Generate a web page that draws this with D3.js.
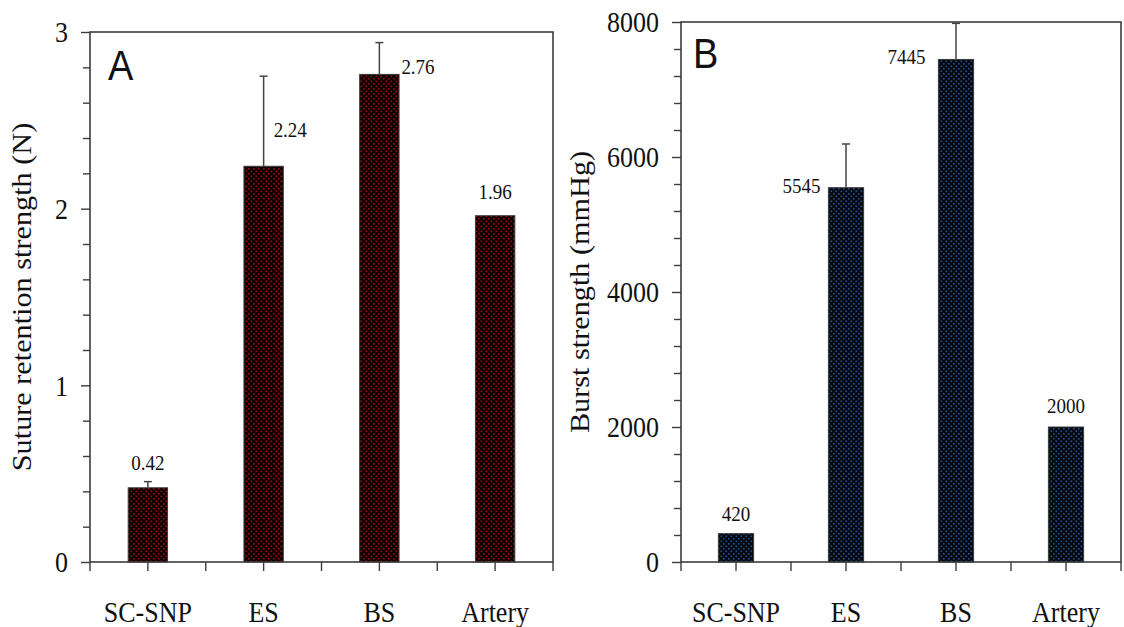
<!DOCTYPE html>
<html>
<head>
<meta charset="utf-8">
<script src="https://cdn.jsdelivr.net/npm/d3@7"></script>
<style>
  html, body { margin: 0; padding: 0; background: #fff; }
  svg { display: block; }
</style>
</head>
<body>
<svg id="chart" width="1124" height="627"></svg>
<script>
// Categories shared by both panels
const categories = ["SC-SNP", "ES", "BS", "Artery"];

// Panel A: suture retention strength (N)
const sutureMeans = [0.42, 2.24, 2.76, 1.96];
const sutureErrors = [0.035, 0.51, 0.18, 0];
const sutureMajorTicks = [0, 1, 2, 3];
const sutureMinorTicks = [0.2, 0.4, 0.6, 0.8, 1.2, 1.4, 1.6, 1.8, 2.2, 2.4, 2.6, 2.8];

// Panel B: burst strength (mmHg)
const burstMeans = [420, 5545, 7445, 2000];
const burstErrors = [0, 648, 535, 0];
const burstMajorTicks = [0, 2000, 4000, 6000, 8000];
const burstMinorTicks = [400, 800, 1200, 1600, 2400, 2800, 3200, 3600, 4400, 4800, 5200, 5600, 6400, 6800, 7200, 7600];

const SERIF = '"Liberation Serif", "Times New Roman", Times, serif';
const SANS = '"Liberation Sans", Arial, sans-serif';
const TEXT_STRETCH = 1.12;   // glyphs are drawn slightly taller than wide

const svg = d3.select("#chart");
const defs = svg.append("defs");

// Stippled fills for the bars
function stipple(id, bg, dot) {
  const p = defs.append("pattern")
    .attr("id", id).attr("patternUnits", "userSpaceOnUse")
    .attr("width", 5).attr("height", 5);
  p.append("rect").attr("width", 5).attr("height", 5).attr("fill", bg);
  p.append("rect").attr("x", 0.5).attr("y", 0.5).attr("width", 1.6).attr("height", 1.6).attr("fill", dot);
  p.append("rect").attr("x", 3).attr("y", 3).attr("width", 1.6).attr("height", 1.6).attr("fill", dot);
}
stipple("dotsRed", "#0c0000", "#a00c0c");
stipple("dotsBlue", "#05080f", "#20508e");

function stretchedText(g, x, y, str, opts) {
  const rot = opts.rotate ? " rotate(-90)" : "";
  return g.append("text")
    .attr("transform", `translate(${x},${y}) scale(1,${TEXT_STRETCH})${rot}`)
    .attr("text-anchor", opts.anchor || "middle")
    .attr("font-family", opts.family || SERIF)
    .attr("font-size", opts.size)
    .attr("fill", "#111")
    .text(str);
}

function drawPanel(cfg) {
  const g = svg.append("g");
  const x = d3.scaleBand().domain(categories).range([cfg.left, cfg.right]).padding(0);
  const y = d3.scaleLinear().domain(cfg.domain).range([cfg.bottom, cfg.top]);
  const barW = x.step() * cfg.barFrac;
  const cx = c => x(c) + x.bandwidth() / 2;

  // bars
  g.selectAll("rect.bar").data(cfg.means).join("rect")
    .attr("class", "bar")
    .attr("x", (d, i) => cx(categories[i]) - barW / 2)
    .attr("y", d => y(d))
    .attr("width", barW)
    .attr("height", d => y(0) - y(d))
    .attr("fill", `url(#${cfg.pattern})`)
    .attr("stroke", "#3a3a3a").attr("stroke-width", 1);

  // upper error bars
  const eb = g.append("g").attr("stroke", "#444").attr("stroke-width", 1.5);
  cfg.means.forEach((m, i) => {
    const e = cfg.errors[i];
    if (!e) return;
    const xc = cx(categories[i]);
    eb.append("line").attr("x1", xc).attr("x2", xc).attr("y1", y(m)).attr("y2", y(m + e));
    eb.append("line").attr("x1", xc - 4).attr("x2", xc + 4).attr("y1", y(m + e)).attr("y2", y(m + e));
  });

  // frame
  g.append("rect")
    .attr("x", cfg.left).attr("y", cfg.top)
    .attr("width", cfg.right - cfg.left).attr("height", cfg.bottom - cfg.top)
    .attr("fill", "none").attr("stroke", "#3c3c3c").attr("stroke-width", 1.6);

  // y axis: minor then major ticks
  g.append("g").attr("transform", `translate(${cfg.left},0)`)
    .call(d3.axisLeft(y).tickValues(cfg.minor).tickSize(7).tickFormat(""))
    .call(a => a.select(".domain").remove())
    .call(a => a.selectAll("line").attr("stroke", "#3c3c3c").attr("stroke-width", 1.4));
  g.append("g").attr("transform", `translate(${cfg.left},0)`)
    .call(d3.axisLeft(y).tickValues(cfg.major).tickSize(9).tickPadding(13).tickSizeOuter(0).tickFormat(d3.format("d")))
    .attr("font-family", SERIF)
    .attr("font-size", 26)
    .call(a => a.select(".domain").remove())
    .call(a => a.selectAll("line").attr("stroke", "#3c3c3c").attr("stroke-width", 1.4))
    .call(a => a.selectAll("text")
      .attr("fill", "#111")
      .attr("font-family", SERIF)
      .attr("font-size", 26)
      .attr("dy", "0.34em")
      .attr("transform", `scale(1,${TEXT_STRETCH})`));

  // x axis: ticks at band centres and band boundaries
  g.append("g").attr("transform", `translate(0,${cfg.bottom})`)
    .call(d3.axisBottom(x).tickSize(9).tickSizeOuter(0).tickFormat(""))
    .call(a => a.select(".domain").remove())
    .call(a => a.selectAll("line").attr("stroke", "#3c3c3c").attr("stroke-width", 1.4));
  const bounds = categories.slice(1).map(c => x(c)).concat([cfg.left, cfg.right]);
  g.append("g").selectAll("line").data(bounds).join("line")
    .attr("x1", d => d).attr("x2", d => d)
    .attr("y1", cfg.bottom).attr("y2", cfg.bottom + 9)
    .attr("stroke", "#3c3c3c").attr("stroke-width", 1.4);

  // category labels
  categories.forEach(c => stretchedText(g, cx(c), 622, c, { size: 26 }));

  // value labels
  cfg.means.forEach((m, i) => {
    const L = cfg.labelPlace[i];
    const xc = cx(categories[i]);
    let lx = xc, anchor = "middle";
    if (L.side === "right") { lx = xc + L.dx; anchor = "start"; }
    if (L.side === "left") { lx = xc - barW / 2 - L.dx; anchor = "end"; }
    const top = y(m + (L.aboveError ? cfg.errors[i] : 0));
    stretchedText(g, lx, top + L.dy, cfg.fmt(m), { size: 19, anchor });
  });

  // axis title
  stretchedText(g, cfg.titleX, (cfg.top + cfg.bottom) / 2, cfg.title, { size: 27, rotate: true });

  // panel letter
  stretchedText(g, cfg.letterX, cfg.letterY, cfg.letter, { size: 38, anchor: "start", family: SANS });
}

drawPanel({
  left: 90, right: 553, top: 32, bottom: 562,
  domain: [0, 3], major: sutureMajorTicks, minor: sutureMinorTicks,
  means: sutureMeans, errors: sutureErrors,
  barFrac: 0.34, pattern: "dotsRed",
  fmt: d3.format(".2f"),
  labelPlace: [
    { side: "center", dy: -12, aboveError: true },
    { side: "right", dx: 10, dy: -29 },
    { side: "right", dx: 22, dy: 0 },
    { side: "center", dy: -17 }
  ],
  title: "Suture retention strength (N)", titleX: 31,
  letter: "A", letterX: 108, letterY: 80
});

drawPanel({
  left: 681, right: 1121, top: 22, bottom: 562,
  domain: [0, 8000], major: burstMajorTicks, minor: burstMinorTicks,
  means: burstMeans, errors: burstErrors,
  barFrac: 0.32, pattern: "dotsBlue",
  fmt: d3.format("d"),
  labelPlace: [
    { side: "center", dy: -13 },
    { side: "left", dx: 8, dy: 5 },
    { side: "left", dx: 13, dy: 5 },
    { side: "center", dy: -14 }
  ],
  title: "Burst strength (mmHg)", titleX: 589,
  letter: "B", letterX: 693, letterY: 68
});
</script>
</body>
</html>
